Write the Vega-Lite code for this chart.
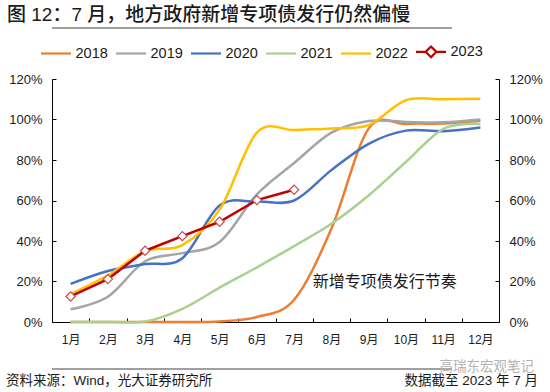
{
  "$schema": "https://vega.github.io/schema/vega-lite/v6.json",
  "background": "white",
  "padding": {"left": 6, "top": 6, "right": 0, "bottom": 0},
  "width": 447,
  "height": 243,
  "config": {
    "view": {"stroke": null},
    "font": "Liberation Sans, Noto Sans CJK SC",
    "axis": {"labelFont": "Liberation Sans, Noto Sans CJK SC", "labelColor": "#1a1a1a", "domainColor": "#000000", "tickColor": "#000000", "grid": false},
    "legend": {"labelFont": "Liberation Sans, Noto Sans CJK SC"}
  },
  "title": {"text": "图 12：7 月，地方政府新增专项债发行仍然偏慢", "anchor": "start", "frame": "bounds", "fontSize": 19, "fontWeight": 500, "font": "Liberation Sans, Noto Sans CJK SC", "color": "#1a1a1a", "offset": 2, "dx": 1},
  "datasets": {
    "s": [
      {"mon": "1月", "yr": "2018", "val": 0}, {"mon": "2月", "yr": "2018", "val": 0}, {"mon": "3月", "yr": "2018", "val": 0}, {"mon": "4月", "yr": "2018", "val": 0}, {"mon": "5月", "yr": "2018", "val": 0.003}, {"mon": "6月", "yr": "2018", "val": 0.025}, {"mon": "7月", "yr": "2018", "val": 0.11}, {"mon": "8月", "yr": "2018", "val": 0.46}, {"mon": "9月", "yr": "2018", "val": 0.955}, {"mon": "10月", "yr": "2018", "val": 0.978}, {"mon": "11月", "yr": "2018", "val": 0.98}, {"mon": "12月", "yr": "2018", "val": 0.994},
      {"mon": "1月", "yr": "2019", "val": 0.063}, {"mon": "2月", "yr": "2019", "val": 0.125}, {"mon": "3月", "yr": "2019", "val": 0.30}, {"mon": "4月", "yr": "2019", "val": 0.34}, {"mon": "5月", "yr": "2019", "val": 0.395}, {"mon": "6月", "yr": "2019", "val": 0.63}, {"mon": "7月", "yr": "2019", "val": 0.785}, {"mon": "8月", "yr": "2019", "val": 0.935}, {"mon": "9月", "yr": "2019", "val": 0.993}, {"mon": "10月", "yr": "2019", "val": 0.988}, {"mon": "11月", "yr": "2019", "val": 0.986}, {"mon": "12月", "yr": "2019", "val": 1.0},
      {"mon": "1月", "yr": "2020", "val": 0.188}, {"mon": "2月", "yr": "2020", "val": 0.252}, {"mon": "3月", "yr": "2020", "val": 0.286}, {"mon": "4月", "yr": "2020", "val": 0.315}, {"mon": "5月", "yr": "2020", "val": 0.575}, {"mon": "6月", "yr": "2020", "val": 0.595}, {"mon": "7月", "yr": "2020", "val": 0.60}, {"mon": "8月", "yr": "2020", "val": 0.75}, {"mon": "9月", "yr": "2020", "val": 0.88}, {"mon": "10月", "yr": "2020", "val": 0.945}, {"mon": "11月", "yr": "2020", "val": 0.942}, {"mon": "12月", "yr": "2020", "val": 0.96},
      {"mon": "1月", "yr": "2021", "val": 0}, {"mon": "2月", "yr": "2021", "val": 0}, {"mon": "3月", "yr": "2021", "val": 0.002}, {"mon": "4月", "yr": "2021", "val": 0.065}, {"mon": "5月", "yr": "2021", "val": 0.17}, {"mon": "6月", "yr": "2021", "val": 0.27}, {"mon": "7月", "yr": "2021", "val": 0.375}, {"mon": "8月", "yr": "2021", "val": 0.485}, {"mon": "9月", "yr": "2021", "val": 0.625}, {"mon": "10月", "yr": "2021", "val": 0.79}, {"mon": "11月", "yr": "2021", "val": 0.953}, {"mon": "12月", "yr": "2021", "val": 0.978},
      {"mon": "1月", "yr": "2022", "val": 0.138}, {"mon": "2月", "yr": "2022", "val": 0.23}, {"mon": "3月", "yr": "2022", "val": 0.35}, {"mon": "4月", "yr": "2022", "val": 0.38}, {"mon": "5月", "yr": "2022", "val": 0.555}, {"mon": "6月", "yr": "2022", "val": 0.935}, {"mon": "7月", "yr": "2022", "val": 0.948}, {"mon": "8月", "yr": "2022", "val": 0.956}, {"mon": "9月", "yr": "2022", "val": 0.972}, {"mon": "10月", "yr": "2022", "val": 1.095}, {"mon": "11月", "yr": "2022", "val": 1.10}, {"mon": "12月", "yr": "2022", "val": 1.102},
      {"mon": "1月", "yr": "2023", "val": 0.126}, {"mon": "2月", "yr": "2023", "val": 0.212}, {"mon": "3月", "yr": "2023", "val": 0.352}, {"mon": "4月", "yr": "2023", "val": 0.424}, {"mon": "5月", "yr": "2023", "val": 0.495}, {"mon": "6月", "yr": "2023", "val": 0.602}, {"mon": "7月", "yr": "2023", "val": 0.653}
    ]
  },
  "layer": [
    {
      "data": {"name": "s"},
      "transform": [{"filter": "datum.yr != '2023'"}],
      "mark": {"type": "line", "interpolate": "cardinal", "strokeWidth": 2.5},
      "encoding": {
        "x": {"field": "mon", "type": "ordinal", "title": null, "sort": null,
              "scale": {"type": "band", "domain": ["1月","2月","3月","4月","5月","6月","7月","8月","9月","10月","11月","12月"], "paddingInner": 0, "paddingOuter": 0},
              "axis": {"tickBand": "extent", "tickSize": -4, "labelPadding": 16, "labelFontSize": 12, "labelAngle": 0, "domainWidth": 1}},
        "y": {"field": "val", "type": "quantitative", "title": null, "scale": {"domain": [0, 1.2], "nice": false},
              "axis": {"orient": "left", "values": [0, 0.2, 0.4, 0.6, 0.8, 1, 1.2], "format": ".0%", "labelFontSize": 13, "tickSize": -4, "labelPadding": 14, "domainWidth": 1}},
        "color": {"field": "yr", "type": "nominal",
                  "scale": {"domain": ["2018","2019","2020","2021","2022","2023"], "range": ["#ED7D31","#A5A5A5","#4472C4","#A9D18E","#FFC000","#C00000"]},
                  "legend": {"title": null, "orient": "none", "legendX": -12.5, "legendY": -44, "direction": "horizontal", "columns": 6, "symbolType": "stroke", "symbolSize": 900, "symbolStrokeWidth": 2.2, "labelFontSize": 14.5, "labelOffset": 3, "columnPadding": 3, "labelColor": "#1a1a1a",
                             "encode": {"symbols": {"update": {"shape": {"signal": "datum.value === '2023' ? 'M-1,0L-0.36,0M0.36,0L1,0M-0.36,0L0,-0.36L0.36,0L0,0.36Z' : 'stroke'"}, "fill": {"value": "white"}}}}}}
      }
    },
    {
      "data": {"name": "s"},
      "transform": [{"filter": "datum.yr == '2023'"}],
      "mark": {"type": "line", "color": "#C00000", "strokeWidth": 2.5},
      "encoding": {
        "x": {"field": "mon", "type": "ordinal", "sort": null},
        "y": {"field": "val", "type": "quantitative", "title": null, "scale": {"domain": [0, 1.2], "nice": false}, "axis": null}
      }
    },
    {
      "data": {"name": "s"},
      "transform": [{"filter": "datum.yr == '2023'"}],
      "mark": {"type": "point", "shape": "diamond", "filled": true, "fill": "white", "stroke": "#C0504D", "strokeWidth": 1.2, "size": 85, "opacity": 1},
      "encoding": {
        "x": {"field": "mon", "type": "ordinal", "sort": null},
        "y": {"field": "val", "type": "quantitative", "title": null, "scale": {"domain": [0, 1.2], "nice": false}, "axis": null}
      }
    },
    {
      "data": {"name": "s"},
      "transform": [{"filter": "datum.yr == '2023'"}],
      "mark": {"type": "point", "opacity": 0},
      "encoding": {
        "x": {"field": "mon", "type": "ordinal", "sort": null},
        "y": {"field": "val", "type": "quantitative", "title": null, "scale": {"domain": [0, 1.2], "nice": false},
              "axis": {"orient": "right", "values": [0, 0.2, 0.4, 0.6, 0.8, 1, 1.2], "format": ".0%", "labelFontSize": 13, "tickSize": -4, "labelPadding": 14, "domainWidth": 1}}
      }
    },
    {
      "data": {"values": [{"mon": "9月", "val": 0.196, "t": "新增专项债发行节奏"}]},
      "mark": {"type": "text", "fontSize": 16, "dx": 16, "color": "#1a1a1a", "font": "Noto Sans CJK SC"},
      "encoding": {
        "x": {"field": "mon", "type": "ordinal", "sort": null},
        "y": {"field": "val", "type": "quantitative", "title": null, "scale": {"domain": [0, 1.2], "nice": false}, "axis": null},
        "text": {"field": "t"}
      }
    },
    {
      "data": {"values": [{"val": 1.2}]},
      "mark": {"type": "rule", "color": "#a0a0a0", "strokeWidth": 2, "yOffset": -51, "xOffset": -47, "x2Offset": 50},
      "encoding": {
        "y": {"field": "val", "type": "quantitative", "title": null, "scale": {"domain": [0, 1.2], "nice": false}, "axis": null}
      }
    },
    {
      "data": {"values": [{"val": 0}]},
      "mark": {"type": "rule", "color": "#808080", "strokeWidth": 1.5, "yOffset": 47, "xOffset": -47, "x2Offset": 50},
      "encoding": {
        "y": {"field": "val", "type": "quantitative", "title": null, "scale": {"domain": [0, 1.2], "nice": false}, "axis": null}
      }
    },
    {
      "data": {"values": [
        {"mon": "1月", "val": 0, "label": "资料来源：Wind，光大证券研究所", "side": "left"},
        {"mon": "12月", "val": 0, "label": "数据截至 2023 年 7 月", "side": "right"},
        {"mon": "12月", "val": 0, "label": "高瑞东宏观笔记", "side": "wm"}
      ]},
      "encoding": {
        "x": {"field": "mon", "type": "ordinal", "sort": null},
        "y": {"field": "val", "type": "quantitative", "title": null, "scale": {"domain": [0, 1.2], "nice": false}, "axis": null},
        "text": {"field": "label"}
      },
      "layer": [
        {"transform": [{"filter": "datum.side == 'left'"}], "mark": {"type": "text", "align": "left", "baseline": "middle", "dx": -64.6, "dy": 58.5, "fontSize": 13.5, "color": "#1a1a1a"}},
        {"transform": [{"filter": "datum.side == 'right'"}], "mark": {"type": "text", "align": "right", "baseline": "middle", "dx": 57.6, "dy": 58.5, "fontSize": 13.5, "color": "#1a1a1a"}},
        {"transform": [{"filter": "datum.side == 'wm'"}], "mark": {"type": "text", "align": "right", "baseline": "middle", "dx": 53.6, "dy": 45, "fontSize": 13.5, "color": "#b4b4b4"}}
      ]
    }
  ],
  "resolve": {"axis": {"y": "independent"}}
}
